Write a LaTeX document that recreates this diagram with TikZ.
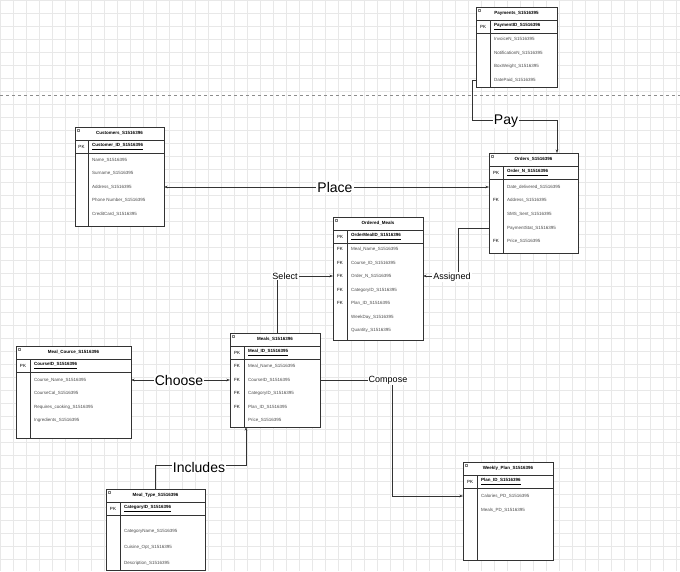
\documentclass[tikz,border=0pt]{standalone}
\usepackage{fontspec}
\setmainfont{Liberation Sans}
\usetikzlibrary{arrows.meta}
\tikzset{
 tt/.style={font=\fontsize{4.5}{5}\selectfont\bfseries,inner sep=0pt},
 pk/.style={font=\fontsize{4.5}{5}\selectfont\bfseries,inner sep=0pt,anchor=west},
 fd/.style={font=\fontsize{4.5}{5}\selectfont,text=black!70,inner sep=0pt,anchor=west},
 ky/.style={font=\fontsize{4.5}{5}\selectfont,inner sep=0pt},
 ent/.style={draw=black!80,line width=0.5pt},
 rel/.style={draw=black!80,line width=0.5pt,-{Stealth[length=3.5pt,width=2.5pt]}},
 big/.style={font=\fontsize{14}{16}\selectfont,fill=white,inner sep=1pt},
 mid/.style={font=\fontsize{9}{11}\selectfont,fill=white,inner sep=1pt},
 gl/.style={black!9,line width=0.3pt},
}
\newcommand\ertab[7]{%
 \fill[white] (#2,#3) rectangle (#4,#5);
 \draw[ent] (#2,#3) rectangle (#4,#5);
 \draw[ent] (#2,#3+13) -- (#4,#3+13);
 \draw[ent] (#2,#3+26) -- (#4,#3+26);
 \draw[ent] (#6,#3+13) -- (#6,#5);
 \node[tt] (#1) at ({(#2+#4)/2},#3+6.5) {#7};
 \draw[black!50,line width=0.3pt] (#2+2,#3+2) rectangle (#2+4.5,#3+4.5);
 \node[ky] at ({(#2+#6)/2},#3+19.5) {PK};
}
\begin{document}
\begin{tikzpicture}[x=1pt,y=-1pt]
\useasboundingbox (0,0) rectangle (680,571);
\fill[white] (0,0) rectangle (680,571);
\foreach \i in {0,13,...,676} \draw[gl] (\i,0) -- (\i,571);
\foreach \j in {0,13,...,570} \draw[gl] (0,\j) -- (680,\j);
\draw[black!45,dashed,line width=0.5pt] (0,95) -- (680,95);

\ertab{pay}{476}{7}{557}{87}{490}{Payments\_S1516395}
\node[pk] at (494,26.5) {\underline{PaymentID\_S1516396}};
\foreach \t/\y in {InvoiceN\_S1516395/39,NotificationN\_S1516395/53,BoxWeight\_S1516395/66,DatePaid\_S1516395/80}
 \node[fd] at (494,\y) {\t};
\ertab{cus}{75}{127}{164}{226}{88}{Customers\_S1516396}
\node[pk] at (92,146.5) {\underline{Customer\_ID\_S1516396}};
\foreach \t/\y in {Name\_S1516395/160,Surname\_S1516395/173,Address\_S1516395/187,Phone Number\_S1516395/200,CreditCard\_S1516395/214}
 \node[fd] at (92,\y) {\t};
\ertab{ord}{489}{153}{578}{253}{503}{Orders\_S1516396}
\node[pk] at (507,172.5) {\underline{Order\_N\_S1516396}};
\foreach \t/\y in {Date\_delivered\_S1516395/187,Address\_S1516395/200,SMS\_Sent\_S1516395/214,PaymentStat\_S1516395/228,Price\_S1516395/241}
 \node[fd] at (507,\y) {\t};
\node[ky] at (496,200) {FK}; \node[ky] at (496,241) {FK};
\ertab{om}{333}{217}{423}{340}{347}{Ordered\_Meals}
\node[pk] at (351,236.5) {\underline{OrderMealID\_S1516396}};
\foreach \t/\y/\k in {Meal\_Name\_S1516395/249/FK,Course\_ID\_S1516395/263/FK,Order\_N\_S1516395/276/FK,CategoryID\_S1516395/290/FK,Plan\_ID\_S1516395/303/FK,WeekDay\_S1516395/317/,Quantity\_S1516395/330/}
 {\node[fd] at (351,\y) {\t}; \node[ky] at (340,\y) {\k};}
\ertab{mea}{230}{333}{320}{427}{244}{Meals\_S1516396}
\node[pk] at (248,352.5) {\underline{Meal\_ID\_S1516395}};
\foreach \t/\y/\k in {Meal\_Name\_S1516395/366/FK,CourseID\_S1516395/380/FK,CategoryID\_S1516395/393/FK,Plan\_ID\_S1516395/407/FK,Price\_S1516395/420/}
 {\node[fd] at (248,\y) {\t}; \node[ky] at (237,\y) {\k};}
\ertab{mc}{16}{346}{131}{438}{30}{Meal\_Cource\_S1516396}
\node[pk] at (34,365.5) {\underline{CourseID\_S1516396}};
\foreach \t/\y in {Course\_Name\_S1516395/380,CourseCal\_S1516395/393,Requires\_cooking\_S1516395/407,Ingredients\_S1516395/420}
 \node[fd] at (34,\y) {\t};
\ertab{mt}{106}{489}{205}{570}{120}{Meal\_Type\_S1516396}
\node[pk] at (124,508.5) {\underline{CategoryID\_S1516396}};
\foreach \t/\y in {CategoryName\_S1516395/531,Cuisine\_Opt\_S1516395/547,Description\_S1516395/563}
 \node[fd] at (124,\y) {\t};
\ertab{wp}{463}{462}{553}{560}{477}{Weekly\_Plan\_S1516396}
\node[pk] at (481,481.5) {\underline{Plan\_ID\_S1516396}};
\foreach \t/\y in {Calories\_PD\_S1516395/496,Meals\_PD\_S1516395/510}
 \node[fd] at (481,\y) {\t};

\coordinate (payL) at (476,80); \coordinate (ordT) at (557,153);
\draw[rel] (payL) -- (472,80) -- (472,120) -- (557,120) -- (ordT);
\node[big] at (506,121) {Pay};
\coordinate (cusR) at (164,187); \coordinate (ordL) at (489,187);
\draw[rel,{Stealth[length=3.5pt,width=2.5pt]}-{Stealth[length=3.5pt,width=2.5pt]}] (cusR) -- (ordL);
\node[big] at (335,187) {Place};
\coordinate (ordL2) at (489,228); \coordinate (omR) at (423,276);
\draw[rel] (ordL2) -- (458,228) -- (458,276) -- (omR);
\node[mid] at (452,277) {Assigned};
\coordinate (omL) at (333,276); \coordinate (meaT) at (277,333);
\draw[rel,{Stealth[length=3.5pt,width=2.5pt]}-] (omL) -- (277,276) -- (meaT);
\node[mid] at (285,276) {Select};
\coordinate (mcR) at (131,380); \coordinate (meaL) at (230,380);
\draw[rel,{Stealth[length=3.5pt,width=2.5pt]}-{Stealth[length=3.5pt,width=2.5pt]}] (mcR) -- (meaL);
\node[big] at (179,380) {Choose};
\coordinate (meaR) at (320,380); \coordinate (wpL) at (463,496);
\draw[rel] (meaR) -- (392,380) -- (392,496) -- (wpL);
\node[mid] at (388,380) {Compose};
\coordinate (meaB) at (246,427); \coordinate (mtT) at (155,489);
\draw[rel,{Stealth[length=3.5pt,width=2.5pt]}-] (meaB) -- (246,465) -- (155,465) -- (mtT);
\node[big] at (199,467) {Includes};
\end{tikzpicture}
\end{document}
